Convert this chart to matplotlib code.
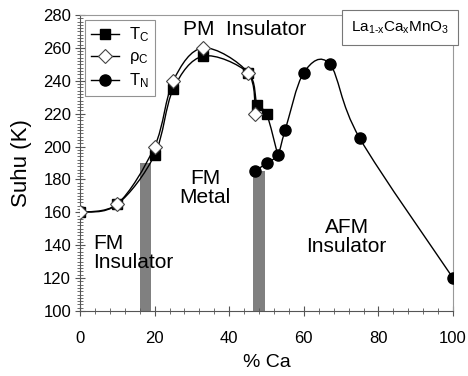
import numpy as np
import matplotlib
matplotlib.use("Agg")
import matplotlib.pyplot as plt
from matplotlib.path import Path
from matplotlib.patches import PathPatch
from matplotlib.lines import Line2D
from matplotlib.ticker import MultipleLocator

plt.rcParams['font.family'] = ['Liberation Sans', 'DejaVu Sans']
plt.rcParams['mathtext.fontset'] = 'custom'
plt.rcParams['mathtext.rm'] = 'Liberation Sans'
plt.rcParams['mathtext.it'] = 'Liberation Sans'

# phase diagram data (% Ca vs temperature in K)
tc_x = [0, 10, 20, 25, 33, 45, 47.5, 50, 53]
tc_y = [160, 165, 195, 235, 255, 245, 225, 220, 195]
rho_x = [0, 10, 20, 25, 33, 45, 47]
rho_y = [160, 165, 200, 240, 260, 245, 220]
tn_x = [47, 50, 53, 55, 60, 67, 75, 100]
tn_y = [185, 190, 195, 210, 245, 250, 205, 120]

# phase boundary bars
bar_x = [17.5, 48]
bar_top = [190, 185]


def smooth_path(xs, ys):
    # smoothed line through the points, built from cubic bezier segments
    p = np.column_stack([xs, ys]).astype(float)
    n = len(p)
    verts = [p[0]]
    codes = [Path.MOVETO]
    for i in range(n - 1):
        p0 = p[i - 1] if i > 0 else p[i]
        p3 = p[i + 2] if i + 2 < n else p[i + 1]
        c1 = p[i] + (p[i + 1] - p0) / 6.0
        c2 = p[i + 1] - (p3 - p[i]) / 6.0
        verts += [c1, c2, p[i + 1]]
        codes += [Path.CURVE4] * 3
    return Path(verts, codes)


fig = plt.figure(figsize=(4.68, 3.76), dpi=100)
ax = fig.add_axes([0.171, 0.173, 0.797, 0.787])

ax.bar(bar_x, [t - 100 for t in bar_top], bottom=100, width=3,
       color='#808080', zorder=1)

for xs, ys in [(tc_x, tc_y), (rho_x, rho_y), (tn_x, tn_y)]:
    ax.add_patch(PathPatch(smooth_path(xs, ys), fill=False, edgecolor='k',
                           lw=1.0, zorder=2))

ax.plot(tc_x[:-1], tc_y[:-1], ls='none', marker='s', ms=7.5, mfc='k', mec='k', zorder=3)
ax.plot(rho_x, rho_y, ls='none', marker='D', ms=7, mfc='white', mec='#444444',
        mew=0.8, zorder=4)
ax.plot(tn_x, tn_y, ls='none', marker='o', ms=8, mfc='k', mec='k', zorder=5)

ax.set_xlim(0, 100)
ax.set_ylim(100, 280)
ax.xaxis.set_major_locator(MultipleLocator(20))
ax.xaxis.set_minor_locator(MultipleLocator(4))
ax.yaxis.set_major_locator(MultipleLocator(20))
ax.yaxis.set_minor_locator(MultipleLocator(2))
ax.tick_params(which='major', direction='inout', length=7, width=0.8,
               color='#555555', labelsize=12)
ax.tick_params(which='minor', direction='inout', length=4, width=0.6,
               color='#555555')
ax.tick_params(axis='x', which='major', pad=11)
ax.tick_params(axis='y', which='major', pad=3)
for side in ['top', 'right']:
    ax.spines[side].set_color('#999999')
    ax.spines[side].set_linewidth(0.8)
for side in ['left', 'bottom']:
    ax.spines[side].set_color('#555555')
    ax.spines[side].set_linewidth(0.8)

ax.set_xlabel('% Ca', fontsize=14, labelpad=6)
ax.set_ylabel('Suhu (K)', fontsize=16, labelpad=8)

ax.text(44, 271.5, 'PM  Insulator', fontsize=15, ha='center', va='center')
ax.text(33.5, 175, 'FM\nMetal', fontsize=15, ha='center', va='center',
        linespacing=1.0)
ax.text(3.5, 135, 'FM\nInsulator', fontsize=15, ha='left', va='center',
        linespacing=1.0)
ax.text(71.5, 145, 'AFM\nInsulator', fontsize=15, ha='center', va='center',
        linespacing=1.0)
ax.text(0.99, 0.985, r'$\mathrm{La_{1\text{-}x}Ca_xMnO_3}$', transform=ax.transAxes,
        fontsize=11, ha='right', va='top',
        bbox=dict(boxstyle='square,pad=0.6', fc='white', ec='#777777', lw=0.8))

handles = [
    Line2D([], [], color='k', lw=1, marker='s', ms=7.5, mfc='k', mec='k'),
    Line2D([], [], color='k', lw=1, marker='D', ms=7, mfc='white', mec='#444444', mew=0.8),
    Line2D([], [], color='k', lw=1, marker='o', ms=8, mfc='k', mec='k'),
]
labels = [r'$\mathrm{T_C}$', r'$\mathrm{ρ_C}$', r'$\mathrm{T_N}$']
leg = ax.legend(handles, labels, loc='upper left', bbox_to_anchor=(0.005, 0.995),
                fontsize=12, frameon=True, fancybox=False, borderaxespad=0.2,
                handlelength=1.7, handletextpad=0.6, labelspacing=0.3,
                borderpad=0.35)
leg.get_frame().set_edgecolor('#777777')
leg.get_frame().set_linewidth(0.8)

fig.savefig('out.png', dpi=100)
